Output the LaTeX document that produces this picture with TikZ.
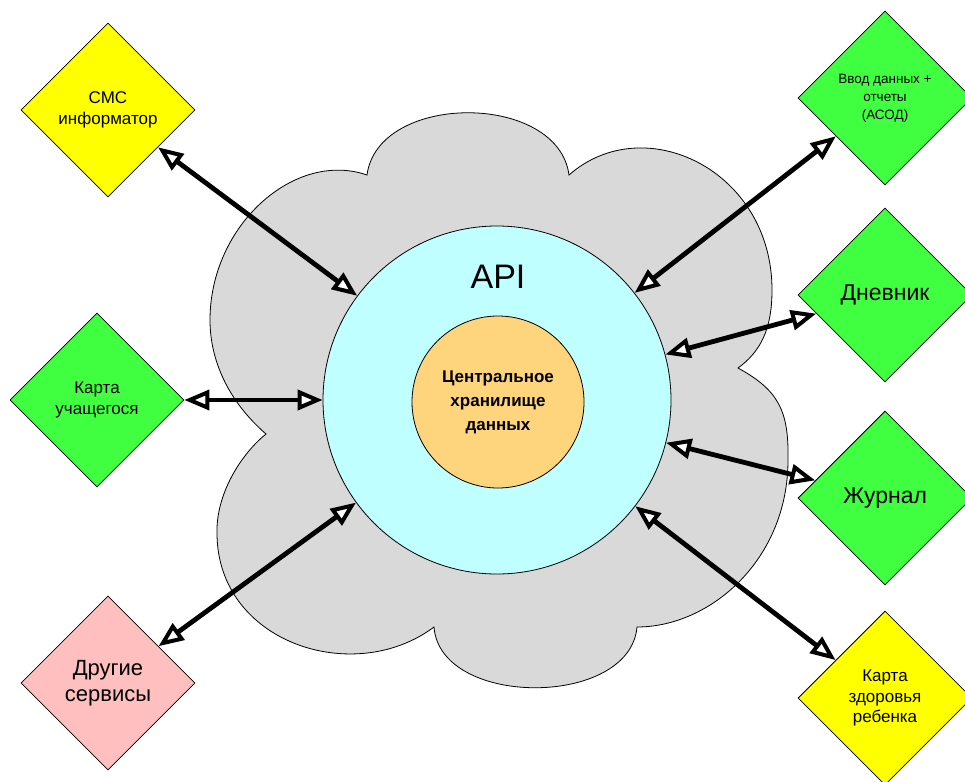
\documentclass[tikz,border=0pt]{standalone}
\usepackage{fontspec}
\setmainfont{Liberation Sans}
\usetikzlibrary{shapes.geometric, arrows.meta}
\definecolor{cloudgray}{RGB}{217,217,217}
\definecolor{apicyan}{RGB}{191,255,255}
\definecolor{coreorange}{RGB}{254,212,124}
\definecolor{dyellow}{RGB}{255,255,0}
\definecolor{dgreen}{RGB}{64,255,64}
\definecolor{dpink}{RGB}{255,191,191}
\begin{document}
\begin{tikzpicture}[x=1pt,y=-1pt,
  dia/.style={diamond, draw=black, line width=0.8pt, aspect=1,
    minimum width=174pt, minimum height=174pt, inner sep=0pt, align=center},
  opentip/.tip={Triangle[fill=white,length=25pt,width=20pt,line width'=4pt]},
  link/.style={line width=4.8pt, opentip-opentip},
  thinline/.style={draw=black, line width=0.8pt}
]
\useasboundingbox (0,0) rectangle (965,781);
\fill[white] (0,0) rectangle (965,781);

% cloud
\path[thinline, fill=cloudgray]
 (367,175) .. controls (378,92) and (558,92) .. (569,175)
 .. controls (644,109) and (772,170) .. (772,290)
 .. controls (772,330) and (760,352) .. (738,368)
 .. controls (778,390) and (789,410) .. (788,460)
 .. controls (788,560) and (710,627) .. (637,627)
 .. controls (630,708) and (440,708) .. (434,627)
 .. controls (354,687) and (217,643) .. (217,533)
 .. controls (216,495) and (240,455) .. (266,434)
 .. controls (228,401) and (210,360) .. (210,320)
 .. controls (210,225) and (295,150) .. (367,175) -- cycle;

% circles
\node[circle, thinline, fill=apicyan, minimum size=348pt, inner sep=0pt] (api) at (497,400) {};
\node[font=\fontsize{34}{40}\selectfont] (apilabel) at (498,277) {API};
\node[circle, thinline, fill=coreorange, minimum size=172pt, inner sep=0pt, align=center,
  font=\bfseries\fontsize{17}{24}\selectfont] (core) at (498,402) {Центральное\\хранилище\\данных};

% diamonds
\node[dia, fill=dyellow, font=\fontsize{17}{21}\selectfont] (sms) at (108,110) {СМС\\информатор};
\node[dia, fill=dgreen, font=\fontsize{17}{21}\selectfont] (kartau) at (97,400) {Карта\\учащегося};
\node[dia, fill=dpink, font=\fontsize{22}{26}\selectfont] (drugie) at (108,683) {Другие\\сервисы};
\node[dia, fill=dgreen, font=\fontsize{13.5}{18}\selectfont] (vvod) at (885,98) {Ввод данных +\\отчеты\\(АСОД)};
\node[dia, fill=dgreen, font=\fontsize{23}{27}\selectfont] (dnevnik) at (885,295) {Дневник};
\node[dia, fill=dgreen, font=\fontsize{23}{27}\selectfont] (zhurnal) at (885,498) {Журнал};
\node[dia, fill=dyellow, font=\fontsize{17}{20.5}\selectfont] (kartaz) at (885,698) {Карта\\здоровья\\ребенка};

% connectors
\draw[link] (sms) -- (api);
\draw[link] (kartau) -- (api);
\draw[link] (drugie) -- (api);
\draw[link] (vvod) -- (api);
\draw[link] (dnevnik) -- (api);
\draw[link] (zhurnal) -- (api);
\draw[link] (kartaz) -- (api);
\end{tikzpicture}
\end{document}
